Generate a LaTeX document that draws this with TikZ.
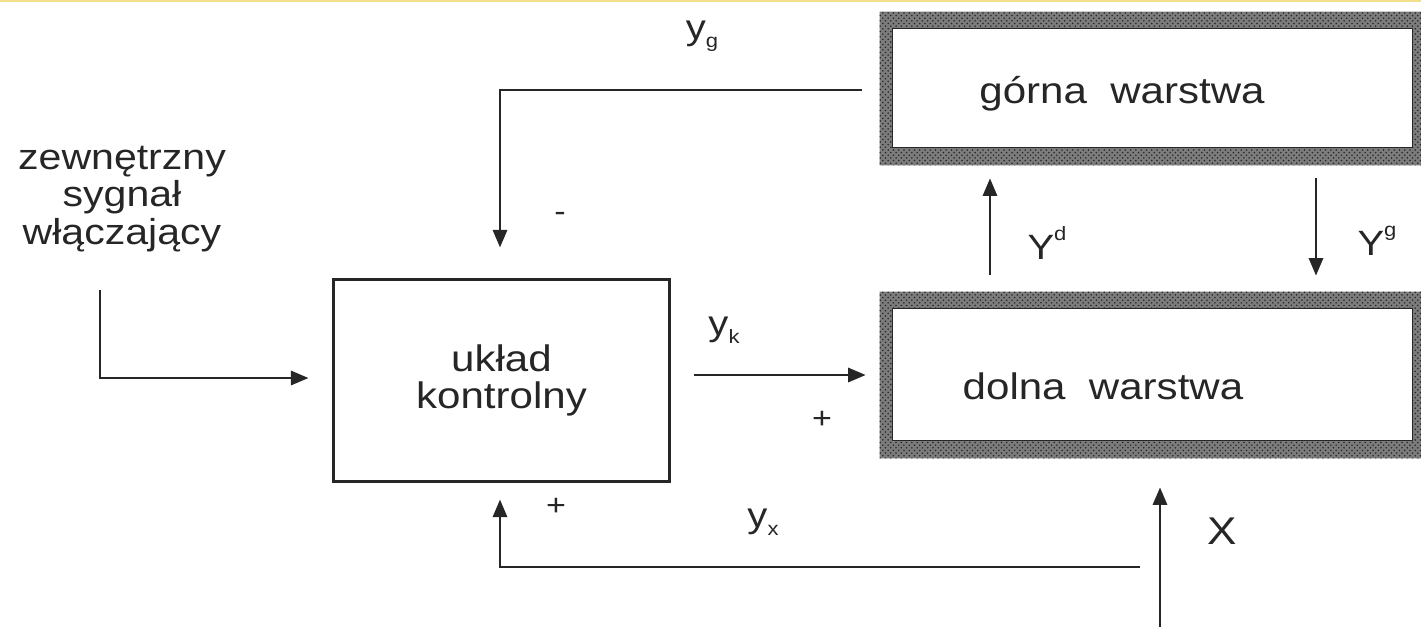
\documentclass[tikz,border=0pt]{standalone}
\usepackage{fontspec}
\setmainfont[FakeStretch=1.14]{Liberation Sans}
\usetikzlibrary{arrows.meta,patterns,calc}
\definecolor{inkc}{HTML}{262626}
\definecolor{framec}{HTML}{7C7C7C}
\definecolor{edgec}{HTML}{F2DF8C}
\newcommand{\lowsub}[1]{\raisebox{-0.45ex}{\fontsize{11}{11}\selectfont #1}}
\newcommand{\highsup}[1]{\raisebox{1.05ex}{\fontsize{11}{11}\selectfont #1}}

\begin{document}
\begin{tikzpicture}[x=0.02cm,y=-0.02cm,
  txt/.style={font=\fontsize{21}{21.5}\selectfont, text=inkc, align=center, inner sep=0pt},
  lbl/.style={font=\fontsize{20}{20}\selectfont, text=inkc, inner sep=0pt},
  sgn/.style={font=\fontsize{17}{17}\selectfont, text=inkc, inner sep=0pt},
  ctrlbox/.style={draw=inkc, line width=1.7pt, minimum width=6.74cm, minimum height=4.06cm,
    inner sep=0pt, txt},
  layerbox/.style={minimum width=10.82cm, inner sep=0pt},
  conn/.style={draw=inkc, line width=1.6pt, -{Triangle[length=10pt,width=8pt]}}]

\useasboundingbox (0,0) rectangle (1421,627);
\fill[white] (0,0) rectangle (1421,627);
\draw[edgec, line width=1.2pt] (0,1) -- (1421,1);

% blocks
\node[ctrlbox] (uk) at (501.5,380.5) {układ\\kontrolny};
\node[layerbox, minimum height=3.06cm] (gw) at (1150.5,88.5) {};
\node[layerbox, minimum height=3.32cm] (dw) at (1150.5,375) {};

% textured frames of the two layers
\foreach \b in {gw,dw}{
  \fill[framec, even odd rule]
    (\b.north west) rectangle (\b.south east)
    ($(\b.north west)+(13,17)$) rectangle ($(\b.south east)+(-9,-18)$);
  \fill[pattern=crosshatch dots, pattern color=black!85, even odd rule]
    (\b.north west) rectangle (\b.south east)
    ($(\b.north west)+(13,17)$) rectangle ($(\b.south east)+(-9,-18)$);
  \draw[inkc, line width=0.6pt] ($(\b.north west)+(13,17)$) rectangle ($(\b.south east)+(-9,-18)$);
}
\node[txt] (gwt) at (1122,94) {górna\ \ warstwa};
\node[txt] (dwt) at (1103,386) {dolna\ \ warstwa};

\node[txt, font=\fontsize{20.5}{21.5}\selectfont] (ext) at (122,199) {zewnętrzny\\sygnał\\włączający};

% helper columns
\coordinate (xl) at (500,0);
\coordinate (xd) at (990,0);
\coordinate (xg) at (1316,0);
\coordinate (xin) at (100,290);
\coordinate (xb) at (1160,627);
\coordinate (yxs) at (1140,567);

% connectors
\draw[conn] (xin) |- ($(uk.west)+(-23,-2.5)$);
\draw[conn] ($(gw.west)+(-18,1.5)$) -| ($(uk.north -| xl)+(0,-30)$);
\draw[conn] ($(dw.west -| uk.east)+(23,0)$) -- ($(dw.west)+(-14,0)$);
\draw[conn] ($(dw.north -| xd)+(0,-17)$) -- ($(gw.south -| xd)+(0,13)$);
\draw[conn] ($(gw.south -| xg)+(0,13)$) -- ($(dw.north -| xg)+(0,-16)$);
\draw[conn] (xb) -- ($(dw.south -| xb)+(0,29)$);
\draw[conn] (yxs) -| ($(uk.south -| xl)+(0,16)$);

% signal labels
\node[lbl] (lyg) at (702,36) {y\lowsub{g}};
\node[lbl] (lyk) at (724,330) {y\lowsub{k}};
\node[lbl] (lyx) at (763,522) {y\lowsub{x}};
\node[lbl] (lyd) at (1047,243) {Y\highsup{d}};
\node[lbl] (lygg) at (1377,241) {Y\highsup{g}};
\node[lbl, font=\fontsize{22}{22}\selectfont] (lx) at (1222,531) {X};
\node[sgn] (sm) at (560,217) {-};
\node[sgn] (sk) at (822,420) {+};
\node[sgn] (sx) at (556,507) {+};
\end{tikzpicture}
\end{document}
